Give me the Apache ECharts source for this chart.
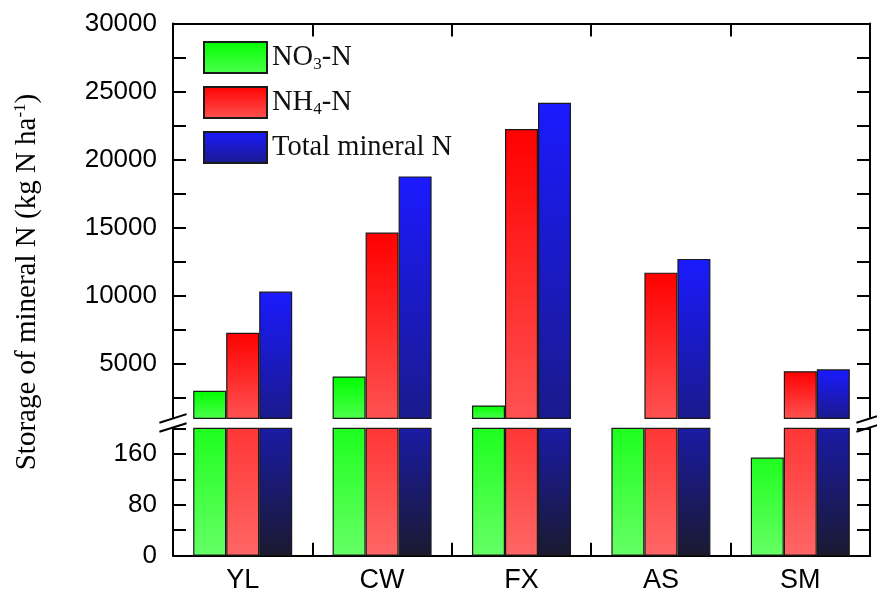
<!DOCTYPE html>
<html><head><meta charset="utf-8">
<script src="https://cdn.jsdelivr.net/npm/echarts@6/dist/echarts.min.js"></script>
<style>html,body{margin:0;padding:0;background:#fff}#c{width:877px;height:602px}</style>
</head><body><div id="c"></div>
<script>
const categories = ['YL', 'CW', 'FX', 'AS', 'SM'];
const seriesNames = ['NO3-N', 'NH4-N', 'Total mineral N'];
const no3 = [3020, 4070, 1940, 980, 154];
const nh4 = [7280, 14640, 22250, 11700, 4460];
const total = [10310, 18770, 24180, 12710, 4600];
const upperTicks = [2500, 5000, 7500, 10000, 12500, 15000, 17500, 20000, 22500, 25000, 27500, 30000];
const upperLabels = [5000, 10000, 15000, 20000, 25000, 30000];
const lowerTicks = [0, 40, 80, 120, 160, 200];
const lowerLabels = [0, 80, 160];
const upperRange = [1000, 30000];
const lowerRange = [0, 200];

const L = 173, R = 7, UT = 23.5, UB = 183.7, LT = 428.3, LB = 46.3;
const W = 877, H = 602;
const dataSets = [no3, nh4, total];
const upperColors = [['#00ff00', '#4dff4d'], ['#ff0000', '#ff5252'], ['#1a1aff', '#1a1a8c']];
const lowerColors = [['#1eff1e', '#66ff66'], ['#ff3636', '#ff6666'], ['#1a1aa6', '#1a1a30']];
function grad(c) {
  return new echarts.graphic.LinearGradient(0, 0, 0, 1, [{offset: 0, color: c[0]}, {offset: 1, color: c[1]}]);
}
const axisLineStyle = {color: '#000', width: 2};
function yAxis(grid, pos, range, ticks, labels, showLabel) {
  return {
    type: 'value', gridIndex: grid, position: pos, min: range[0], max: range[1],
    splitLine: {show: false},
    axisLine: {show: true, lineStyle: axisLineStyle},
    axisTick: {show: true, inside: true, length: 13, customValues: ticks, lineStyle: {color: '#000', width: 2}},
    axisLabel: {show: showLabel, customValues: labels, margin: 16, color: '#000',
      fontFamily: 'Liberation Sans', fontSize: 26, formatter: v => String(v)}
  };
}
const series = [];
seriesNames.forEach((n, i) => {
  series.push({
    type: 'bar', name: n, xAxisIndex: 0, yAxisIndex: 0, barWidth: 33, barGap: '0%',
    data: dataSets[i], clip: true,
    itemStyle: {color: grad(upperColors[i]), borderColor: '#1a1a1a', borderWidth: 1.2}
  });
});
seriesNames.forEach((n, i) => {
  series.push({
    type: 'bar', name: n, xAxisIndex: 1, yAxisIndex: 2, barWidth: 33, barGap: '0%',
    data: dataSets[i], clip: true,
    itemStyle: {color: grad(lowerColors[i]), borderColor: '#1a1a1a', borderWidth: 1.2}
  });
});
const gapTop = H - UB, gapBot = LT;
function breakLines(x) {
  const c1 = gapTop + 0.1, c2 = gapBot - 0.8;
  return [c1, c2].map(yc => ({
    type: 'line', z: 100,
    shape: {x1: x - 13.6, y1: yc + 4.3, x2: x + 13.6, y2: yc - 4.3},
    style: {stroke: '#000', lineWidth: 2}
  }));
}
const chart = echarts.init(document.getElementById('c'), null, {renderer: 'canvas'});
chart.setOption({
  backgroundColor: '#fff',
  animation: false,
  grid: [
    {left: L, right: R, top: UT, bottom: UB},
    {left: L, right: R, top: LT, bottom: LB}
  ],
  xAxis: [
    {type: 'category', gridIndex: 0, position: 'top', data: categories,
     axisLine: {show: true, lineStyle: axisLineStyle},
     axisTick: {show: true, inside: true, length: 13, lineStyle: {color: '#000', width: 2}},
     axisLabel: {show: false}, splitLine: {show: false}},
    {type: 'category', gridIndex: 1, position: 'bottom', data: categories,
     axisLine: {show: true, lineStyle: axisLineStyle},
     axisTick: {show: true, inside: true, length: 13, lineStyle: {color: '#000', width: 2}},
     axisLabel: {show: true, margin: 11, color: '#000', fontFamily: 'Liberation Sans', fontSize: 27},
     splitLine: {show: false}}
  ],
  yAxis: [
    yAxis(0, 'left', upperRange, upperTicks, upperLabels, true),
    yAxis(0, 'right', upperRange, upperTicks, upperLabels, false),
    yAxis(1, 'left', lowerRange, lowerTicks, lowerLabels, true),
    yAxis(1, 'right', lowerRange, lowerTicks, lowerLabels, false)
  ],
  legend: {
    data: seriesNames, orient: 'vertical', left: 203, top: 41, padding: 0,
    itemWidth: 63, itemHeight: 31, itemGap: 12, icon: 'rect',
    formatter: n => n.replace(/(\d)/, '{sub|$1}'),
    textStyle: {
      fontFamily: 'Liberation Serif', fontSize: 28.5, color: '#111',
      rich: {sub: {fontFamily: 'Liberation Serif', fontSize: 17, color: '#111', padding: [15, 0, 0, 0]}}
    }
  },
  graphic: [
    {
      type: 'text', x: 27, y: 282, rotation: Math.PI / 2, z: 100,
      style: {
        text: 'Storage of mineral N (kg N ha{sup|-1})',
        fontFamily: 'Liberation Serif', fontSize: 29, fill: '#000',
        align: 'center', verticalAlign: 'middle',
        rich: {sup: {fontFamily: 'Liberation Serif', fontSize: 17, fill: '#000', padding: [0, 0, 12, 0]}}
      }
    },
    ...breakLines(L), ...breakLines(W - R)
  ],
  series: series
});
</script></body></html>
